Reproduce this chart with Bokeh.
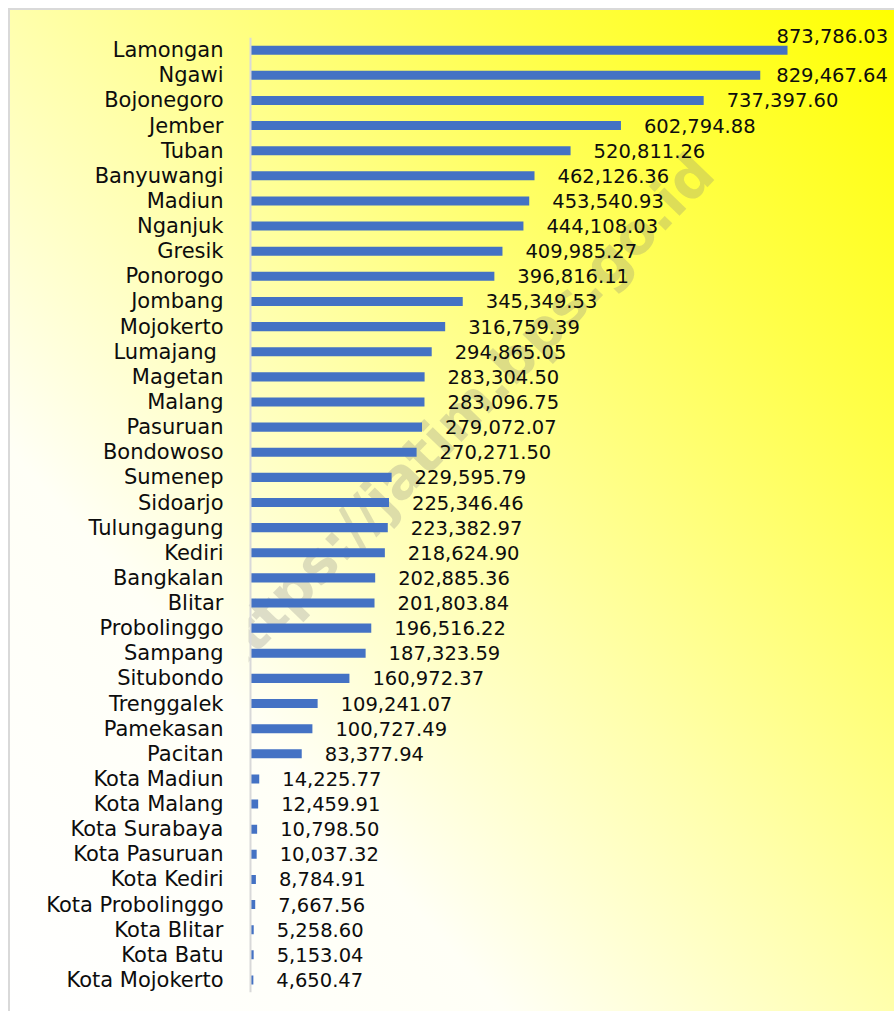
from bokeh.plotting import figure
from bokeh.models import ColumnDataSource, Range1d, Label, LabelSet
from bokeh.core.properties import value
from bokeh.embed import file_html
from bokeh.resources import INLINE
import math

# ---- data (top to bottom as shown) ----
regions = ["Lamongan", "Ngawi", "Bojonegoro", "Jember", "Tuban", "Banyuwangi", "Madiun",
           "Nganjuk", "Gresik", "Ponorogo", "Jombang", "Mojokerto", "Lumajang ", "Magetan",
           "Malang", "Pasuruan", "Bondowoso", "Sumenep", "Sidoarjo", "Tulungagung", "Kediri",
           "Bangkalan", "Blitar", "Probolinggo", "Sampang", "Situbondo", "Trenggalek",
           "Pamekasan", "Pacitan", "Kota Madiun", "Kota Malang", "Kota Surabaya",
           "Kota Pasuruan", "Kota Kediri", "Kota Probolinggo", "Kota Blitar", "Kota Batu",
           "Kota Mojokerto"]
values = [873786.03, 829467.64, 737397.60, 602794.88, 520811.26, 462126.36, 453540.93,
          444108.03, 409985.27, 396816.11, 345349.53, 316759.39, 294865.05, 283304.50,
          283096.75, 279072.07, 270271.50, 229595.79, 225346.46, 223382.97, 218624.90,
          202885.36, 201803.84, 196516.22, 187323.59, 160972.37, 109241.07, 100727.49,
          83377.94, 14225.77, 12459.91, 10798.50, 10037.32, 8784.91, 7667.56, 5258.60,
          5153.04, 4650.47]
watermark_text = "https://jatim.bps.go.id"

# ---- styling ----
FONT = "DejaVu Sans"
BAR_COLOR = "#4472C4"
AXIS_COLOR = "#d9d9d9"
label_shift = {"Lamongan": (-11, 14), "Ngawi": (16, 0)}  # labels moved to fit inside the chart

xoff = [label_shift.get(r, (23, 0))[0] for r in regions]
yoff = [label_shift.get(r, (23, 0))[1] for r in regions]
labels = ["{:,.2f}".format(v) for v in values]

src = ColumnDataSource(dict(cat=regions, val=values, lbl=labels, xo=xoff, yo=yoff))

background = (
    "linear-gradient(#d9d9d9, #d9d9d9) 8px 8px / 2px 100% no-repeat, "
    "linear-gradient(#d9d9d9, #d9d9d9) 8px 8px / 100% 2px no-repeat, "
    "linear-gradient(to top right, #ffffff 0%, #fffff6 28%, #ffffac 50%, "
    "#ffff48 78%, #ffff00 100%) 10px 10px / 884px 1001px no-repeat, #ffffff"
)

# one blank slot above the first category leaves room for the top value label
y_factors = list(reversed(regions)) + [" "]

p = figure(width=894, height=1011, y_range=y_factors,
           x_range=Range1d(-3254, 1047890),
           output_backend="svg", toolbar_location=None,
           min_border_left=248, min_border_right=0, min_border_top=12, min_border_bottom=19,
           background_fill_color=None, border_fill_color=None, outline_line_color=None,
           styles={"background": background})

# watermark (behind the bars)
wm = Label(x=338000, y=22.9, text=watermark_text, angle=math.radians(46),
           text_align="center", text_baseline="middle", text_font=FONT,
           text_font_style="bold", text_font_size="56px", text_color="#808080",
           text_alpha=0.27, level="underlay")
p.add_layout(wm)

p.hbar(y="cat", right="val", left=0, height=0.36, source=src,
       fill_color=BAR_COLOR, line_color=None)

# vertical category axis line spanning the categories only
p.segment(x0=[0], x1=[0], y0=[(regions[-1], -0.5)], y1=[(regions[0], 0.5)],
          line_color=AXIS_COLOR, line_width=2)

vals = LabelSet(x="val", y="cat", text="lbl", x_offset="xo", y_offset="yo", source=src,
                text_align="left", text_baseline="middle", text_font=value(FONT),
                text_font_size="19.5px", text_color="#0d0d0d")
p.add_layout(vals)

p.xaxis.visible = False
p.xgrid.visible = False
p.ygrid.visible = False
p.y_range.range_padding = 0

ax = p.yaxis[0]
ax.axis_line_color = None
ax.major_tick_line_color = None
ax.minor_tick_line_color = None
ax.major_tick_out = 0
ax.major_tick_in = 0
ax.major_label_standoff = 25
ax.major_label_text_font = FONT
ax.major_label_text_font_size = "21px"
ax.major_label_text_color = "#0d0d0d"

open("out.html", "w").write(file_html(p, INLINE))
